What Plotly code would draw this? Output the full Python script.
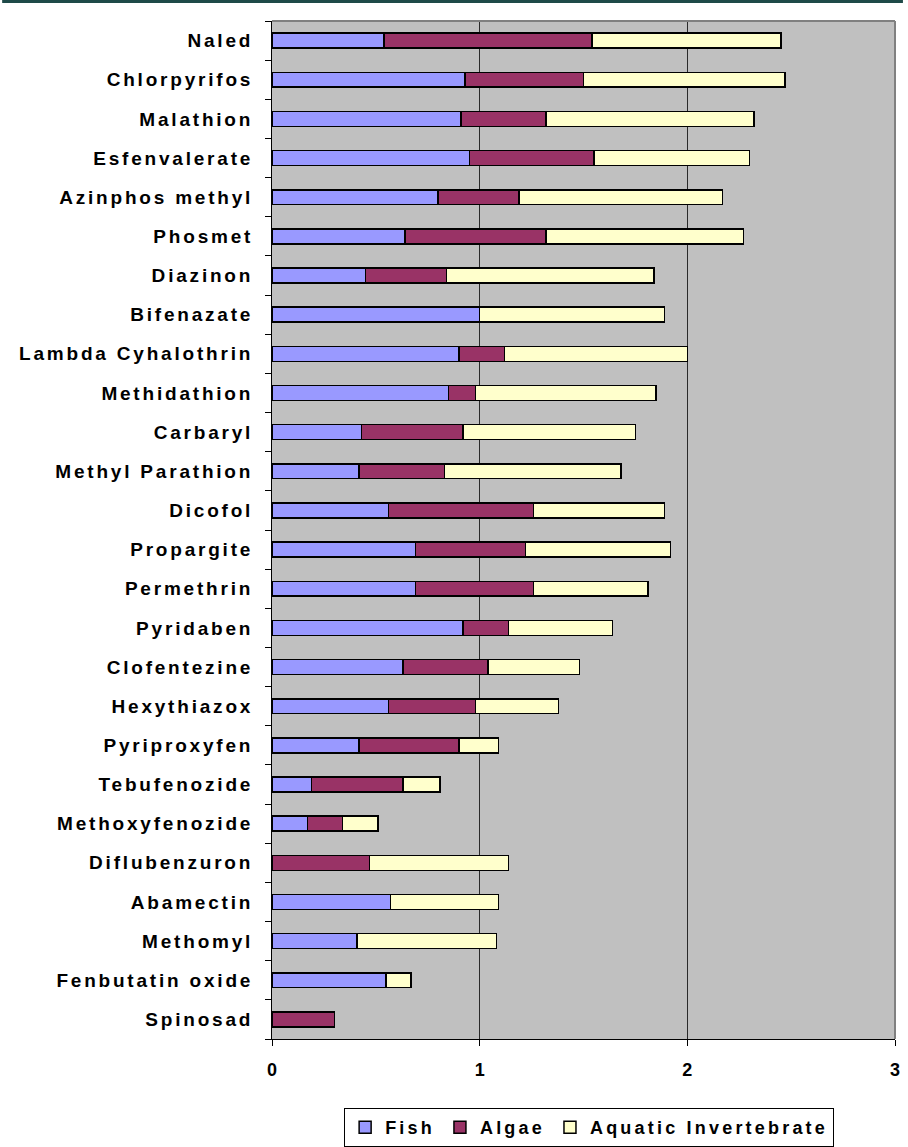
import plotly.graph_objects as go

categories = ["Naled", "Chlorpyrifos", "Malathion", "Esfenvalerate", "Azinphos methyl",
              "Phosmet", "Diazinon", "Bifenazate", "Lambda Cyhalothrin", "Methidathion",
              "Carbaryl", "Methyl Parathion", "Dicofol", "Propargite", "Permethrin",
              "Pyridaben", "Clofentezine", "Hexythiazox", "Pyriproxyfen", "Tebufenozide",
              "Methoxyfenozide", "Diflubenzuron", "Abamectin", "Methomyl",
              "Fenbutatin oxide", "Spinosad"]

fish = [0.54, 0.93, 0.91, 0.95, 0.80, 0.64, 0.45, 1.00, 0.90, 0.85,
        0.43, 0.42, 0.56, 0.69, 0.69, 0.92, 0.63, 0.56, 0.42, 0.19,
        0.17, None, 0.57, 0.41, 0.55, None]
algae = [1.00, 0.57, 0.41, 0.60, 0.39, 0.68, 0.39, None, 0.22, 0.13,
         0.49, 0.41, 0.70, 0.53, 0.57, 0.22, 0.41, 0.42, 0.48, 0.44,
         0.17, 0.47, None, None, None, 0.30]
invert = [0.91, 0.97, 1.00, 0.75, 0.98, 0.95, 1.00, 0.89, 0.88, 0.87,
          0.83, 0.85, 0.63, 0.70, 0.55, 0.50, 0.44, 0.40, 0.19, 0.18,
          0.17, 0.67, 0.52, 0.67, 0.12, None]

series_names = ["Fish", "Algae", "Aquatic Invertebrate"]
series_colors = ["#9999FF", "#993366", "#FFFFCC"]
x_ticks = [0, 1, 2, 3]

FONT = "Liberation Sans, Arial, sans-serif"

def spaced(t, sp):
    return f'<span style="letter-spacing:{sp}px">{t}</span>'

fig = go.Figure()
for name, vals, col in zip(series_names, [fish, algae, invert], series_colors):
    fig.add_trace(go.Bar(
        y=categories, x=vals, orientation="h", name=spaced(name, 3.2),
        marker=dict(color=col, line=dict(color="black", width=1.5)),
        width=0.38,
    ))

fig.update_layout(
    barmode="stack",
    width=908, height=1147,
    margin=dict(l=272, r=8, t=21, b=108),
    plot_bgcolor="#C0C0C0",
    paper_bgcolor="white",
    font=dict(family=FONT, color="black", size=15, weight="bold"),
    showlegend=True,
    legend=dict(
        orientation="h",
        xref="container", yref="container",
        x=0.379, xanchor="left",
        y=1 - 1108 / 1147, yanchor="top",
        bordercolor="black", borderwidth=1,
        bgcolor="white",
        font=dict(family=FONT, size=18, color="black", weight="bold"),
        traceorder="normal",
        itemwidth=30,
        tracegroupgap=0,
    ),
)

fig.update_xaxes(
    range=[0, 3],
    tickvals=x_ticks,
    ticktext=[str(v) for v in x_ticks],
    showgrid=True, gridcolor="#2A2A2A", gridwidth=1,
    zeroline=False,
    showline=True, linecolor="black", linewidth=1,
    ticks="outside", ticklen=6, tickcolor="black", tickwidth=1,
    tickfont=dict(family=FONT, size=18, color="black", weight="bold"),
    ticklabelstandoff=8,
)

fig.update_yaxes(
    categoryorder="array", categoryarray=categories,
    tickvals=categories,
    ticktext=[spaced(c, 2.8) for c in categories],
    autorange="reversed",
    showgrid=False,
    showline=True, linecolor="black", linewidth=1,
    ticks="outside", ticklen=6, tickcolor="black", tickwidth=1,
    tickson="boundaries",
    tickfont=dict(family=FONT, size=19, color="black", weight="bold"),
    ticklabelstandoff=14,
)

# plot area border (top and right) in gray
fig.add_shape(type="line", xref="paper", yref="paper", x0=0, x1=1, y0=1, y1=1,
              line=dict(color="#808080", width=2))
fig.add_shape(type="line", xref="paper", yref="paper", x0=1, x1=1, y0=0, y1=1,
              line=dict(color="#808080", width=2))
# dark header band at very top of the picture
fig.add_shape(type="rect", xref="paper", yref="paper", x0=-272/628, x1=1 + 8/628,
              y0=1 + 18/1018, y1=1 + 22/1018, line=dict(width=0), fillcolor="#1E4A48")

fig.write_html("out.html")
